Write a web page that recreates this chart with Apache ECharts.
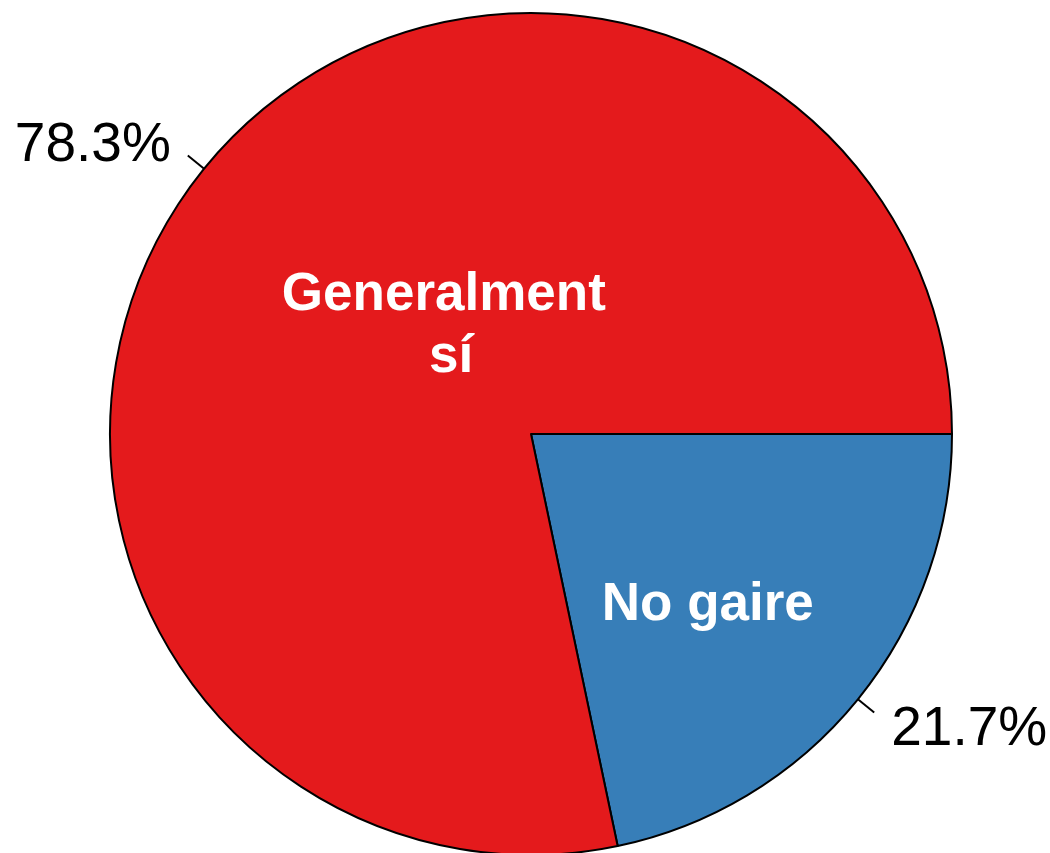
<!DOCTYPE html>
<html>
<head>
<meta charset="utf-8">
<script src="https://cdn.jsdelivr.net/npm/echarts@6/dist/echarts.min.js"></script>
<style>
html, body { margin: 0; padding: 0; background: #fff; }
#main { width: 1050px; height: 853px; }
</style>
</head>
<body>
<div id="main"></div>
<script>
// dades del gràfic
var categories = ['No gaire', 'Generalment sí'];
var percents = [21.7, 78.3];
var colors = ['#377EB8', '#E41A1C'];

var chart = echarts.init(document.getElementById('main'));

var pieData = [];
for (var i = 0; i < categories.length; i++) {
	pieData.push({ name: categories[i], value: percents[i], itemStyle: { color: colors[i] } });
}

// desplaçament de les etiquetes
var innerShift = [[11, 37], [86, 27]];
var outerShift = [[0, 17], [0, -10]];

var option = {
	animation: false,
	series: [
		{
			type: 'pie',
			center: [531, 434],
			radius: 421,
			startAngle: 0,
			clockwise: true,
			avoidLabelOverlap: false,
			itemStyle: { borderColor: '#000', borderWidth: 2 },
			label: {
				show: true,
				position: 'inside',
				color: '#fff',
				fontFamily: 'Liberation Sans',
				fontWeight: 'bold',
				fontSize: 53,
				lineHeight: 62,
				width: 340,
				overflow: 'break',
				align: 'center',
				formatter: '{b}'
			},
			labelLayout: function (params) {
				return { dx: innerShift[params.dataIndex][0], dy: innerShift[params.dataIndex][1] };
			},
			emphasis: { disabled: true },
			data: pieData
		},
		{
			type: 'pie',
			center: [531, 434],
			radius: 421,
			startAngle: 0,
			clockwise: true,
			silent: true,
			avoidLabelOverlap: false,
			itemStyle: { color: 'transparent', borderWidth: 0 },
			label: {
				show: true,
				position: 'outside',
				color: '#000',
				fontFamily: 'Liberation Sans',
				fontSize: 55,
				overflow: 'none',
				distanceToLabelLine: 17,
				formatter: function (p) { return p.value.toFixed(1) + '%'; }
			},
			labelLine: {
				show: true,
				length: 21,
				length2: 0,
				lineStyle: { color: '#000', width: 2 }
			},
			labelLayout: function (params) {
				return { dx: outerShift[params.dataIndex][0], dy: outerShift[params.dataIndex][1] };
			},
			emphasis: { disabled: true },
			data: pieData
		}
	]
};
option.series[1].data = pieData.map(function (d) { return { name: d.name, value: d.value }; });
chart.setOption(option);
</script>
</body>
</html>
